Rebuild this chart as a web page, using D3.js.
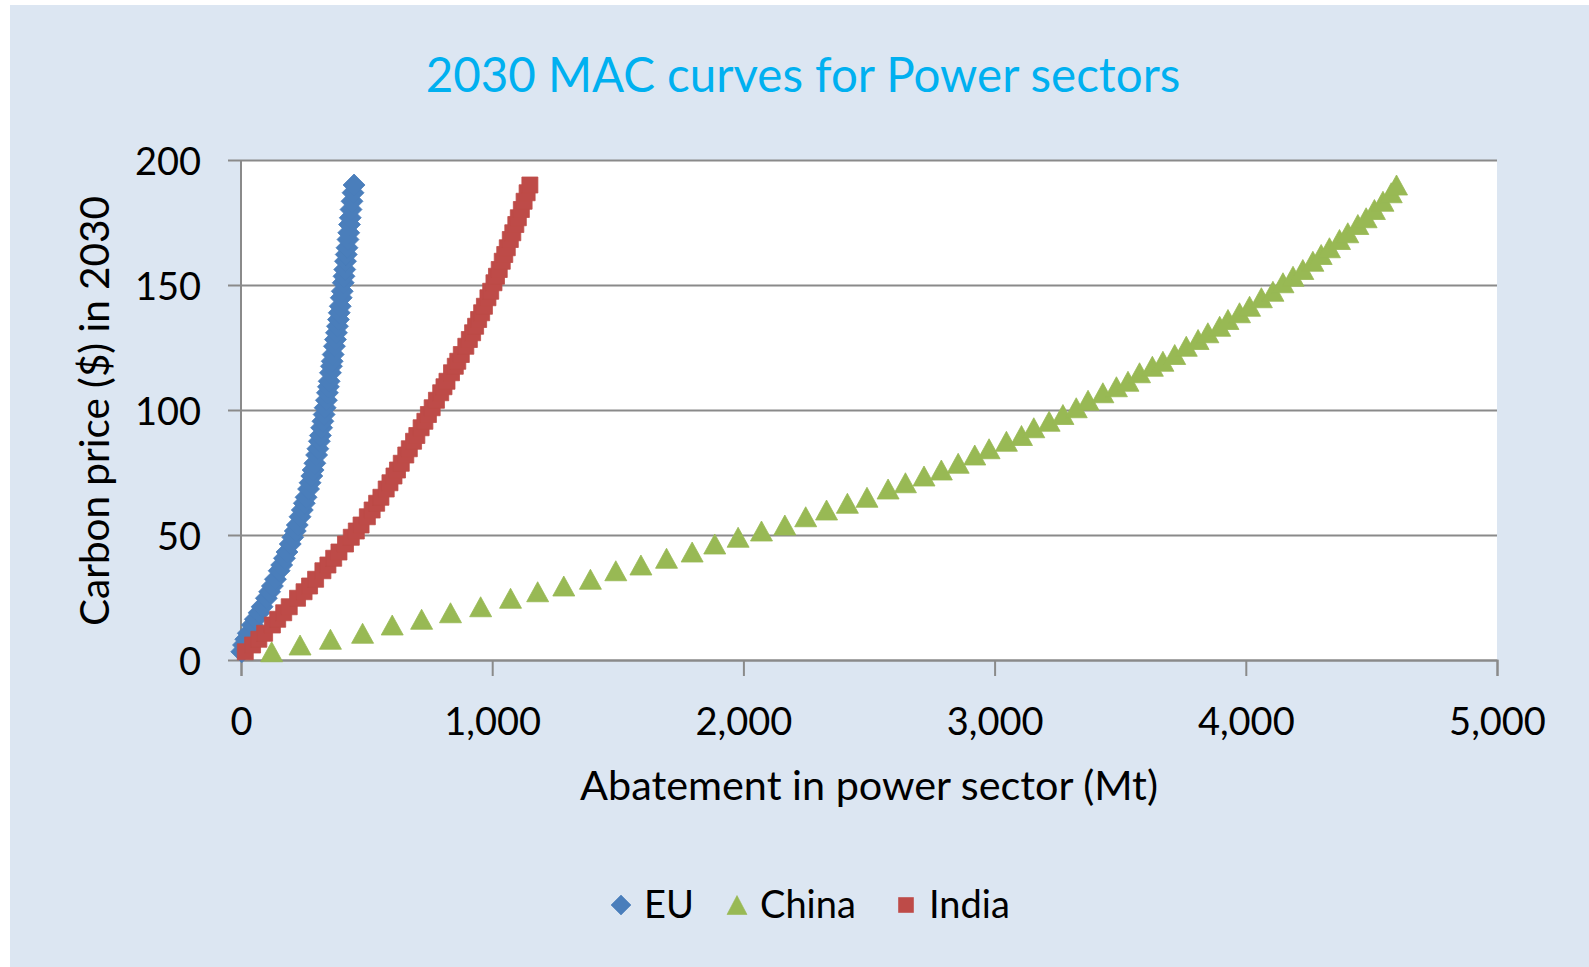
<!DOCTYPE html>
<html>
<head>
<meta charset="utf-8">
<script src="https://cdn.jsdelivr.net/npm/d3@7"></script>
<style>
  html, body { margin: 0; padding: 0; background: #ffffff; }
  svg { display: block; }
  text { font-family: Lato, "Open Sans", sans-serif; }
</style>
</head>
<body>
<svg id="chart" width="1589" height="967"></svg>
<script>
// ---------- data ----------
const carbonPrice = [3.3,6,8.3,10.7,14,16.3,18.9,21.3,24.7,27.3,29.6,32.3,35.7,38,40.7,43.2,46.4,49.1,51.6,54,
  57.3,60,62.7,65.1,68.4,70.9,73.6,76,78.7,82,84.5,87.5,89.8,92.9,95.5,98.2,100.9,103.9,106.9,109.3,
  111.5,114.9,117.5,119.5,122.2,125.5,128.2,130.9,133.5,136.2,138.9,141.5,144.9,147.5,150.9,153.5,156.2,159.5,162.2,164.9,
  168.2,170.9,174.2,176.9,180.2,183.5,186.9,190];

const euAbatement = [3,10,19,29,45,57,72,84,101,114,125,137,152,162,173,183,196,206,216,224,
  235,244,252,259,269,275,282,287,294,301,306,312,316,321,326,331,335,340,344,348,
  351,356,360,363,367,372,376,380,384,388,391,395,399,403,407,410,413,416,419,422,
  426,429,432,435,438,442,446,450];

const chinaAbatement = [122,235,356,484,602,719,834,954,1073,1181,1285,1391,1492,1592,1694,1796,1886,1979,2072,2165,
  2248,2331,2414,2492,2576,2645,2719,2788,2855,2921,2978,3047,3107,3156,3217,3272,3325,3372,3431,3485,
  3531,3577,3628,3670,3717,3763,3810,3849,3896,3929,3975,4015,4062,4108,4148,4188,4227,4267,4300,4333,
  4373,4406,4446,4479,4512,4546,4579,4600];

const indiaAbatement = [17,46,71,94,125,146,170,192,225,251,273,297,326,346,369,390,416,439,459,478,
  503,522,540,557,578,593,609,623,638,656,670,687,700,717,732,746,761,778,795,808,
  820,838,853,863,877,895,909,922,934,946,958,969,983,994,1007,1017,1028,1040,1050,1060,
  1072,1082,1094,1104,1116,1127,1139,1150];

const seriesNames = ["EU", "China", "India"];
const xTicks = [0, 1000, 2000, 3000, 4000, 5000];
const yTicks = [0, 50, 100, 150, 200];
const titleText = "2030 MAC curves for Power sectors";
const xAxisTitle = "Abatement in power sector (Mt)";
const yAxisTitle = "Carbon price ($) in 2030";

// ---------- layout ----------
const W = 1589, H = 967;
const plot = { left: 241, right: 1497, top: 160, bottom: 660 };
const colors = { EU: "#4A7EBB", China: "#98B954", India: "#BE4B48" };
const gridColor = "#8a8a8a";

const svg = d3.select("#chart");

// background
svg.append("rect").attr("x", 0).attr("y", 0).attr("width", W).attr("height", H).attr("fill", "#ffffff");
svg.append("rect").attr("x", 10).attr("y", 5).attr("width", W - 10).attr("height", H - 5).attr("fill", "#dce6f2");

// plot area
svg.append("rect")
  .attr("x", plot.left).attr("y", plot.top)
  .attr("width", plot.right - plot.left).attr("height", plot.bottom - plot.top)
  .attr("fill", "#ffffff");

const x = d3.scaleLinear().domain([0, 5000]).range([plot.left, plot.right]);
const y = d3.scaleLinear().domain([0, 200]).range([plot.bottom, plot.top]);

function fit(sel, targetWidth, baseSize) {
  sel.style("font-size", baseSize + "px");
  const w = sel.node().getComputedTextLength();
  sel.style("font-size", (baseSize * targetWidth / w) + "px");
}

// gridlines (axis generator)
const yAxisG = svg.append("g")
  .attr("transform", `translate(${plot.left},0)`)
  .call(d3.axisLeft(y).tickValues(yTicks).tickSize(-(plot.right - plot.left)).tickFormat(""));
yAxisG.select(".domain").remove();
yAxisG.selectAll(".tick line").attr("stroke", gridColor).attr("stroke-width", 2);

// y ticks + labels
const yTickG = svg.append("g")
  .attr("transform", `translate(${plot.left},0)`)
  .call(d3.axisLeft(y).tickValues(yTicks).tickSize(13).tickPadding(27).tickFormat(d3.format(",")));
yTickG.select(".domain").remove();
yTickG.selectAll(".tick line").attr("stroke", gridColor).attr("stroke-width", 2);
yTickG.selectAll(".tick text")
  .attr("fill", "#000").attr("font-family", "Lato").style("font-size", "38px")
  .attr("dy", "0.37em");

// x axis
const xAxisG = svg.append("g")
  .attr("transform", `translate(0,${plot.bottom})`)
  .call(d3.axisBottom(x).tickValues(xTicks).tickSize(16).tickPadding(0).tickFormat(d3.format(",")));
xAxisG.select(".domain").attr("stroke", gridColor).attr("stroke-width", 2);
xAxisG.selectAll(".tick line").attr("stroke", gridColor).attr("stroke-width", 2);
xAxisG.selectAll(".tick text")
  .attr("fill", "#000").attr("font-family", "Lato").style("font-size", "38px")
  .attr("y", 75).attr("dy", 0);

// y axis line
svg.append("line")
  .attr("x1", plot.left).attr("x2", plot.left)
  .attr("y1", plot.top).attr("y2", plot.bottom)
  .attr("stroke", gridColor).attr("stroke-width", 2);

// markers
const shapes = {
  EU: "M0,-11L11,0L0,11L-11,0Z",
  China: "M0,-10L11,10L-11,10Z",
  India: "M-8,-8h16v16h-16Z"
};
const seriesData = {
  EU: euAbatement.map((a, i) => ({ a, p: carbonPrice[i] })),
  China: chinaAbatement.map((a, i) => ({ a, p: carbonPrice[i] })),
  India: indiaAbatement.map((a, i) => ({ a, p: carbonPrice[i] }))
};
seriesNames.forEach(name => {
  svg.append("g").selectAll("path")
    .data(seriesData[name])
    .join("path")
    .attr("d", shapes[name])
    .attr("transform", d => `translate(${x(d.a)},${y(d.p)})`)
    .attr("fill", colors[name])
    .attr("stroke", colors[name])
    .attr("stroke-width", 0.8)
    .attr("stroke-linejoin", "round");
});

// title
const t = svg.append("text")
  .attr("x", 803).attr("y", 92)
  .attr("text-anchor", "middle")
  .attr("fill", "#00b0f0")
  .text(titleText);
fit(t, 755, 48);

// axis titles
const xt = svg.append("text")
  .attr("x", (plot.left + plot.right) / 2).attr("y", 800)
  .attr("text-anchor", "middle").attr("fill", "#000")
  .text(xAxisTitle);
fit(xt, 578, 38);

const yt = svg.append("text")
  .attr("transform", `translate(109,${(plot.top + plot.bottom) / 2 + 1}) rotate(-90)`)
  .attr("text-anchor", "middle").attr("fill", "#000")
  .text(yAxisTitle);
fit(yt, 430, 38);

// legend
const legendShapes = {
  EU: "M0,-10L10,0L0,10L-10,0Z",
  China: "M0,-9.5L10,9.5L-10,9.5Z",
  India: "M-7.5,-7.5h15v15h-15Z"
};
const legendItems = [
  { name: "EU", mx: 621, tx: 644 },
  { name: "China", mx: 737, tx: 760 },
  { name: "India", mx: 906, tx: 929 }
];
const lg = svg.append("g");
legendItems.forEach(it => {
  lg.append("path")
    .attr("d", legendShapes[it.name])
    .attr("transform", `translate(${it.mx},905)`)
    .attr("fill", colors[it.name]).attr("stroke", colors[it.name]).attr("stroke-width", 0.6);
  lg.append("text")
    .attr("x", it.tx).attr("y", 918)
    .attr("fill", "#000").style("font-size", "38px")
    .text(it.name);
});
</script>
</body>
</html>
